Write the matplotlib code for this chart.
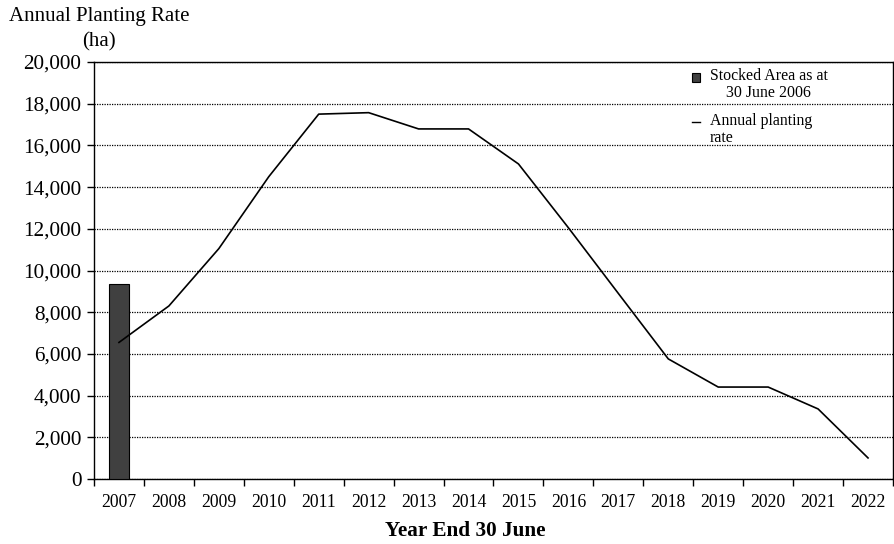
import matplotlib
matplotlib.use("Agg")
import matplotlib.pyplot as plt
import matplotlib.transforms as mtransforms
from matplotlib.artist import Artist
from matplotlib.patches import Patch
from matplotlib.lines import Line2D
import numpy as np

years = ["2007", "2008", "2009", "2010", "2011", "2012", "2013", "2014",
         "2015", "2016", "2017", "2018", "2019", "2020", "2021", "2022"]
planting_rate = [6550, 8300, 11050, 14500, 17500, 17570, 16790, 16790,
                 15110, 12050, 8900, 5760, 4410, 4410, 3360, 1010]
stocked_area = 9350  # bar at 2007
y_ticks = [0, 2000, 4000, 6000, 8000, 10000, 12000, 14000, 16000, 18000, 20000]

plt.rcParams['font.family'] = ['Liberation Serif', 'DejaVu Serif']

fig = plt.figure(figsize=(8.95, 5.44), dpi=100)
ax = fig.add_axes([94 / 895, 1 - 479 / 544, 799 / 895, 417 / 544])

x = np.arange(len(years))
ax.bar([0], [stocked_area], width=0.4, color='#404040', edgecolor='black',
       linewidth=0.8, zorder=3)
ax.plot(x, planting_rate, color='black', linewidth=1.2, zorder=4)

ax.set_xlim(-0.5, len(years) - 0.5)
ax.set_ylim(0, 20000)
ax.set_yticks(y_ticks)
ax.set_yticklabels([f"{v:,}" for v in y_ticks], fontsize=15.3)
ax.set_xticks(x)
ax.set_xticklabels(years, fontsize=12.7)
ax.set_xticks(np.arange(-0.5, len(years)), minor=True)
ax.tick_params(axis='x', which='major', length=0, pad=11)
ax.tick_params(axis='x', which='minor', length=5, direction='out', width=1)
ax.tick_params(axis='y', length=5, direction='out', width=1, pad=4)

ax.yaxis.grid(True, linestyle=(0, (1, 1)), color='black', linewidth=0.9)
ax.set_axisbelow(True)
for s in ax.spines.values():
    s.set_color('black')
    s.set_linewidth(1.0)

fig.text(9 / 895, 1 - 16 / 544, "Annual Planting Rate", fontsize=15,
         ha='left', va='center')
fig.text(99 / 895, 1 - 42 / 544, "(ha)", fontsize=15, ha='center', va='center')
fig.text(465 / 895, 1 - 531 / 544, "Year End 30 June", fontsize=15.3,
         fontweight='bold', ha='center', va='center')

handles = [Patch(facecolor='#404040', edgecolor='black', linewidth=0.8),
           Line2D([0], [0], color='black', linewidth=1.0)]
labels = ["Stocked Area as at\n30 June 2006", "Annual planting\nrate"]
leg = ax.legend(handles, labels, loc='upper left', bbox_to_anchor=(0.749, 0.985),
                frameon=False, fontsize=11.4, handlelength=0.5, handleheight=0.5,
                handletextpad=0.6, labelspacing=0.7, borderpad=0,
                borderaxespad=0)
for t in leg.get_texts():
    t.set_linespacing(1.1)
leg.get_texts()[0].set_multialignment('center')

# markers sit on the first text line, as in the original
shift = mtransforms.ScaledTranslation(0, 8 / 100, fig.dpi_scale_trans)
for h in leg.legend_handles:
    h.set_transform(Artist.get_transform(h) + shift)

fig.savefig("out.png", dpi=100)
